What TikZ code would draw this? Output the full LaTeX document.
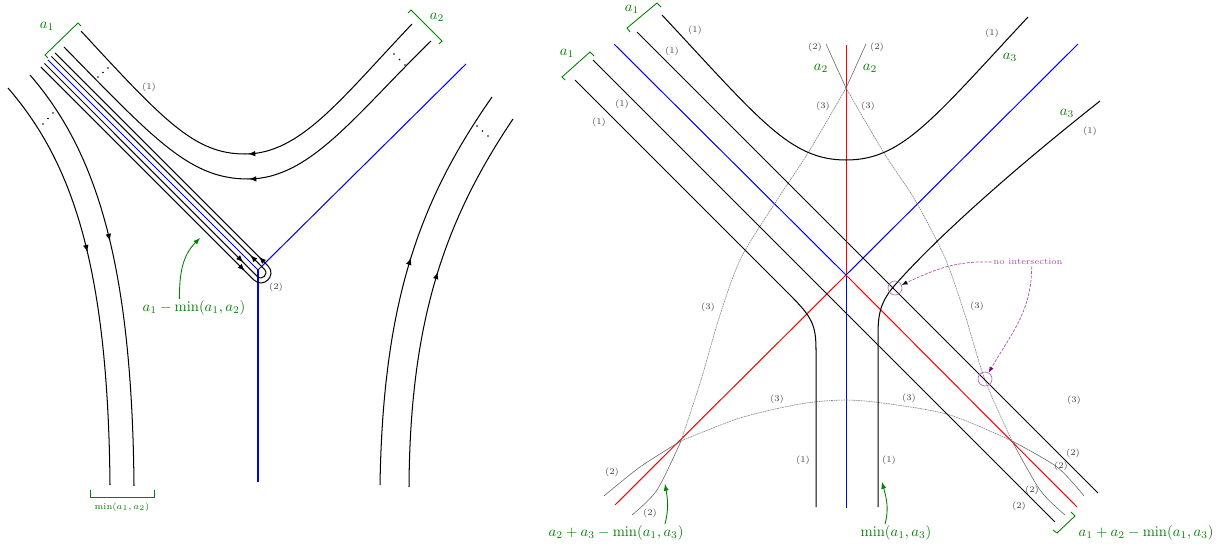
\documentclass[tikz,border=0pt]{standalone}
\usepackage{amsmath,amsfonts,amssymb}
\usepackage{tikz}
\usetikzlibrary{decorations.markings,arrows.meta}
\definecolor{darkgreen}{rgb}{0,0.5,0}
\definecolor{annot}{RGB}{176,80,176}

\tikzset{
  strand/.style={line width=0.7pt},
  curvetwo/.style={gray!80!black, line width=0.4pt},
  curvethree/.style={gray, line width=0.4pt, dash pattern=on 1.2pt off 0.5pt},
  wt/.style={text=black!75, font=\fontsize{6}{7}\selectfont, inner sep=1pt},
  glab/.style={text=darkgreen, inner sep=1pt},
  brace/.style={darkgreen, line width=0.6pt},
  garrow/.style={darkgreen, line width=0.6pt, -latex},
  arrowat/.style={postaction={decorate},
    decoration={markings,mark=at position #1 with {\arrow{latex}}}},
  uturn/.style={postaction={decorate},
    decoration={markings,mark=at position 0.455 with {\arrow{latex}},
      mark=at position 0.545 with {\arrow{latex}}}},
  ring/.style={circle, draw=annot, line width=0.4pt, minimum size=9.6pt, inner sep=0pt},
}

\begin{document}
\begin{tikzpicture}[x=0.685pt, y=-0.685pt]
\useasboundingbox (0,0) rectangle (1224,547);

% left picture
\coordinate (J) at (258,270);
\coordinate (Jul) at (48,60);
\coordinate (Jur) at (466,64);
\coordinate (Jd) at (258,482);
\draw[blue, strand] (Jul) -- (J) -- (Jur);
\draw[blue, strand] (J) -- (Jd);

\draw[strand, uturn] (40.9,67.1) -- (253.8,279.9) .. controls (263.2,289.3) and (277.3,275.2) .. (267.9,265.8) -- (55.1,52.9);
\draw[strand, uturn] (44.5,63.5) -- (257.3,276.4) .. controls (262,281.1) and (269.1,274) .. (264.4,269.3) -- (51.5,56.5);

\draw[strand, arrowat=0.5] (412,24) .. controls (340,100) and (300,154) .. (245,154) .. controls (195,154) and (165,122) .. (81,31);
\draw[strand, arrowat=0.5] (431,41) .. controls (355,115) and (310,179) .. (248,179) .. controls (190,179) and (155,140) .. (64,47);
\draw[strand, arrowat=0.44] (8,88) .. controls (70,160) and (108,260) .. (110,485);
\draw[strand, arrowat=0.43] (30,75) .. controls (95,150) and (132,260) .. (134,486);
\draw[strand, arrowat=0.56] (380,485) .. controls (383,300) and (420,200) .. (492,97);
\draw[strand, arrowat=0.56] (409,487) .. controls (410,320) and (445,220) .. (513,119);

\fill (98,77) circle (0.6pt) (103,72.5) circle (0.6pt) (108,68) circle (0.6pt);
\fill (43,124) circle (0.6pt) (48,118.5) circle (0.6pt) (53,113) circle (0.6pt);
\fill (394,54) circle (0.6pt) (399.5,59.5) circle (0.6pt) (405,65) circle (0.6pt);
\fill (477,126) circle (0.6pt) (482.5,131) circle (0.6pt) (488,136) circle (0.6pt);

\draw[brace] (48,58) -- (45,55) -- (78,23) -- (81,26);
\node[glab] (wa1) at (47,26) {$a_1$};
\draw[brace] (408,13) -- (411,10) -- (442,41) -- (439,44);
\node[glab] (wa2) at (437,17) {$a_2$};
\draw[brace] (90,490) -- (90,497) -- (154,497) -- (154,490);
\node[glab, font=\fontsize{6}{7}\selectfont] (wmin) at (122,507) {$\min(a_1,a_2)$};

\node[wt] (wl1) at (149,87) {(1)};
\node[wt] (wl2) at (276,287) {(2)};

\node[glab] (loss) at (194,308) {$a_1-\min(a_1,a_2)$};
\coordinate (losstip) at (200,238);
\draw[garrow] ([xshift=-10pt]loss.north) to[out=90, in=225] (losstip);

% right picture
\coordinate (C) at (846,275);
\coordinate (Cu) at (846,45);
\coordinate (Cd) at (846,508);
\coordinate (Cul) at (614,44);
\coordinate (Cdr) at (1077,507);
\coordinate (Cdl) at (615,505);
\coordinate (Cur) at (1078,44);
\draw[red, strand] (C) -- (Cu);
\draw[blue, strand] (C) -- (Cd);
\draw[blue, strand] (C) -- (Cul);
\draw[red, strand] (C) -- (Cdr);
\draw[red, strand] (C) -- (Cdl);
\draw[blue, strand] (C) -- (Cur);

\draw[curvetwo] (866,44) -- (846,88);
\draw[curvethree] plot[smooth] coordinates {(846,88) (808,153) (777,200) (741,258) (720,315) (701,380) (681,441)};
\draw[curvetwo] plot[smooth] coordinates {(681,441) (657,490) (632,515)};
\draw[curvetwo] (826,44) -- (846,88);
\draw[curvethree] plot[smooth] coordinates {(846,88) (884,153) (915,200) (945,258) (965,315) (985,380) (1012,441)};
\draw[curvetwo] plot[smooth] coordinates {(1012,441) (1040,490) (1065,515)};
\draw[curvetwo] plot[smooth] coordinates {(604,496) (640,467) (681,441)};
\draw[curvethree] plot[smooth] coordinates {(681,441) (740,418) (800,404) (846,400) (890,404) (950,415) (1012,441)};
\draw[curvetwo] plot[smooth] coordinates {(1012,441) (1057,467) (1084,496)};

\draw[strand] (662,15) .. controls (760,120) and (790,160) .. (846,160) .. controls (902,160) and (932,120) .. (1028,17);
\draw[strand] (637,32) -- (1098,493);
\draw[strand] (593,60) -- (1055,522);
\draw[strand] (575,80) -- (790,295) .. controls (812,317) and (816,325) .. (816,350) -- (816,507);
\draw[strand] (1100,101) .. controls (1000,180) and (930,245) .. (895,285) .. controls (880,302) and (878,315) .. (878,335) -- (878,507);

\draw[brace] (630,32) -- (627,28) -- (657,3) -- (661,7);
\node[glab] (wb1) at (632,9) {$a_1$};
\draw[brace] (565,80) -- (562,77) -- (590,52) -- (594,56);
\node[glab] (wc1) at (567,53) {$a_1$};
\node[glab] (wb2) at (821,68) {$a_2$};
\node[glab] (wc2) at (870,68) {$a_2$};
\node[glab] (wb3) at (1010,57) {$a_3$};
\node[glab] (wc3) at (1067,113) {$a_3$};
\draw[brace] (1053,530) -- (1057,533) -- (1075,516) -- (1071,512);

\foreach \n/\x/\y/\t in {a/815/47/2, b/877/47/2, c/612/472/2, d/650/513/2,
    e/1073/453/2, f/1061/466/2, g/1032/490/2, h/1019/506/2,
    i/823/106/3, j/868/106/3, k/708/307/3, l/977/306/3, m/777/399/3,
    n/909/398/3, o/1074/400/3,
    p/695/30/1, q/672/51/1, r/622/104/1, s/599/122/1, t/992/33/1,
    u/1090/131/1, v/803/460/1, w/889/460/1}
  \node[wt] (wr\n) at (\x,\y) {(\t)};

\node[glab] (sumlab) at (616,533) {$a_2+a_3-\min(a_1,a_3)$};
\coordinate (sumtip) at (665,484);
\draw[garrow] ([xshift=33.5pt]sumlab.north) to[out=75, in=-80] (sumtip);
\node[glab] (minlab) at (896,533) {$\min(a_1,a_3)$};
\coordinate (mintip) at (882,482);
\draw[garrow] ([xshift=-7.5pt]minlab.north) to[out=75, in=-75] (mintip);
\node[glab] (difflab) at (1146,533) {$a_1+a_2-\min(a_1,a_3)$};

\node[ring] (ring1) at (895,288) {};
\node[ring] (ring2) at (985,379) {};
\node[text=annot, font=\fontsize{6}{7}\selectfont, inner sep=1pt] (noint) at (1028,262) {no intersection};
\draw[annot, line width=0.5pt, dash pattern=on 2pt off 1pt, -{Latex[color=black, length=4pt]}] (noint.west) to[out=178, in=25] (ring1);
\draw[annot, line width=0.5pt, dash pattern=on 2pt off 1pt, -{Latex[color=violet, length=4pt]}] ([xshift=2.5pt]noint.south) to[out=-90, in=60] (ring2);
\end{tikzpicture}
\end{document}
